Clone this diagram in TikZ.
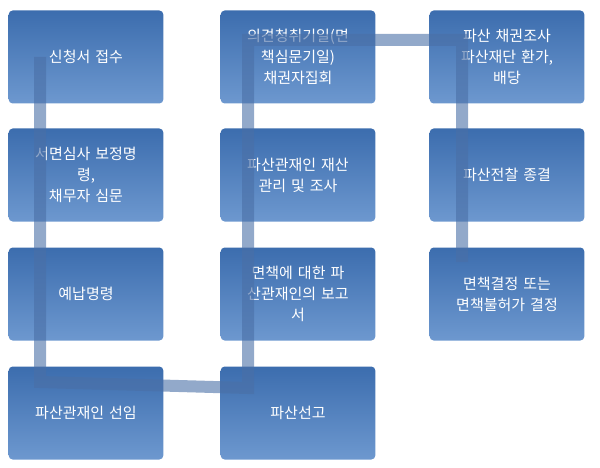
\documentclass[tikz,border=0pt]{standalone}
\usepackage{fontspec}
\newfontfamily\kofont{Noto Sans CJK KR}
\usetikzlibrary{positioning}
\definecolor{boxtop}{HTML}{3C6DAE}
\definecolor{boxbot}{HTML}{6D98CF}
\definecolor{linkblue}{HTML}{4A6FA6}
\begin{document}
\begin{tikzpicture}[x=1pt,y=-1pt,
    stepbox/.style={rounded corners=4pt, top color=boxtop, bottom color=boxbot,
        draw=none, minimum width=153pt, minimum height=93pt, text width=148pt,
        align=center, text=white, font=\kofont\fontsize{15}{21}\selectfont}]
    \useasboundingbox (0,0) rectangle (600,468);
    %% 세 열의 상자
    \foreach \n/\x/\y/\t in
    {a1/86/57/{신청서 접수},
        a2/86/175/{서면심사 보정명\\령,\\채무자 심문},
        a3/86/294/{예납명령},
        a4/86/413/{파산관재인 선임},
        b1/298/57/{의견청취기일(면\\책심문기일)\\채권자집회},
        b2/298/175/{파산관재인 재산\\관리 및 조사},
        b3/298/294/{면책에 대한 파\\산관재인의 보고\\서},
        b4/298/413/{파산선고},
        c1/507/57/{파산 채권조사\\파산재단 환가,\\배당},
        c2/507/175/{파산전찰 종결},
        c3/507/294/{면책결정 또는\\면책불허가 결정}
    }
    {
        \node[stepbox] (\n) at (\x,\y) {\t};
    };
    %% 이어지는 선
    \coordinate (s1) at (40,57);
    \coordinate (s2) at (40,382);
    \coordinate (s3) at (248,388);
    \coordinate (s4) at (248,40);
    \coordinate (s5) at (462,40);
    \coordinate (s6) at (462,262);
    \draw[linkblue, opacity=0.6, line width=12pt]
    (s1) -- (s2) -- (s3) -- (s4) -- (s5) -- (s6);
\end{tikzpicture}
\end{document}
